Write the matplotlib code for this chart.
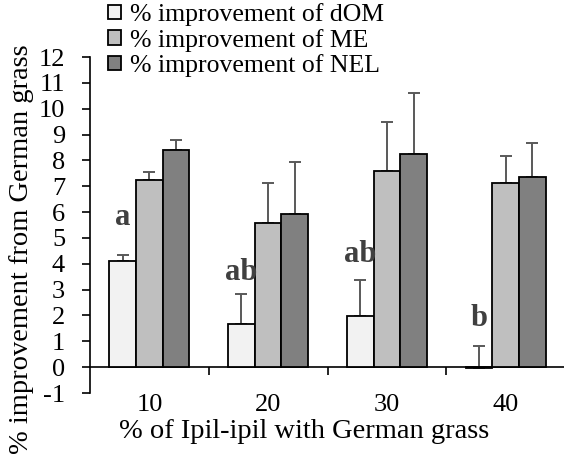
import numpy as np
import matplotlib.pyplot as plt

plt.rcParams['font.family'] = ['Liberation Serif', 'DejaVu Serif']
plt.rcParams['axes.unicode_minus'] = False

# Ipil-ipil share in the mix and the three improvement measures
groups = ['10', '20', '30', '40']
dom = [4.12, 1.67, 1.97, -0.05]
me = [7.23, 5.56, 7.60, 7.12]
nel = [8.42, 5.93, 8.24, 7.34]
dom_err = [0.20, 1.16, 1.40, 0.85]
me_err = [0.31, 1.58, 1.90, 1.06]
nel_err = [0.36, 2.02, 2.38, 1.34]
letters = ['a', 'ab', 'ab', 'b']
letter_y = [5.8, 3.65, 4.35, 1.9]

series = [
    ('% improvement of dOM', dom, dom_err, '#f2f2f2'),
    ('% improvement of ME', me, me_err, '#bfbfbf'),
    ('% improvement of NEL', nel, nel_err, '#808080'),
]

W, H = 564, 454
fig = plt.figure(figsize=(W / 100, H / 100), dpi=100)
ax = fig.add_axes([90 / W, 61 / H, 475 / W, 336 / H])

x = np.arange(1, len(groups) + 1)
w = 0.225
for i, (name, vals, errs, color) in enumerate(series):
    pos = x + (i - 1) * w
    ax.bar(pos, vals, w, color=color, edgecolor='black', linewidth=1.3,
           label=name, zorder=3)
    ax.errorbar(pos, vals, yerr=[np.zeros(len(errs)), errs], fmt='none',
                ecolor='#595959', elinewidth=1.4, capsize=4.5, capthick=1.4,
                zorder=2)

# significance letters above the dOM bars
for xi, lab, ly in zip(x - w, letters, letter_y):
    ax.text(xi, ly, lab, ha='center', va='center', fontsize=22,
            fontweight='bold', color='#404040')

ax.set_xlim(0.5, 4.5)
ax.set_ylim(-1, 12)
ax.set_yticks(range(-1, 13))
ax.tick_params(axis='y', direction='out', length=6, width=1.2, labelsize=19, pad=12)

ax.spines['top'].set_visible(False)
ax.spines['right'].set_visible(False)
ax.spines['left'].set_linewidth(1.2)
ax.spines['bottom'].set_linewidth(1.2)
ax.spines['bottom'].set_position(('data', 0))

# ticks between groups, labels centred under each group
ax.set_xticks([1.5, 2.5, 3.5])
ax.set_xticklabels([])
ax.set_xticks(x, minor=True)
ax.set_xticklabels(groups, minor=True)
ax.tick_params(axis='x', which='major', direction='out', length=6, width=1.2)
ax.tick_params(axis='x', which='minor', length=0, labelsize=19, pad=19)

fig.text(304 / W, 1 - 431 / H, '% of Ipil-ipil with German grass', fontsize=20.5,
         ha='center', va='center')
fig.text(22 / W, 1 - 249 / H, '% improvement from German grass', fontsize=20.5,
         ha='center', va='center', rotation=90)

fig.legend(loc='upper left', bbox_to_anchor=(108 / W, 1 - 3 / H), frameon=False,
           fontsize=18.5, handlelength=0.5, handleheight=0.5, handletextpad=0.35,
           labelspacing=0.1, borderaxespad=0, borderpad=0)

fig.savefig('out.png', dpi=100)
